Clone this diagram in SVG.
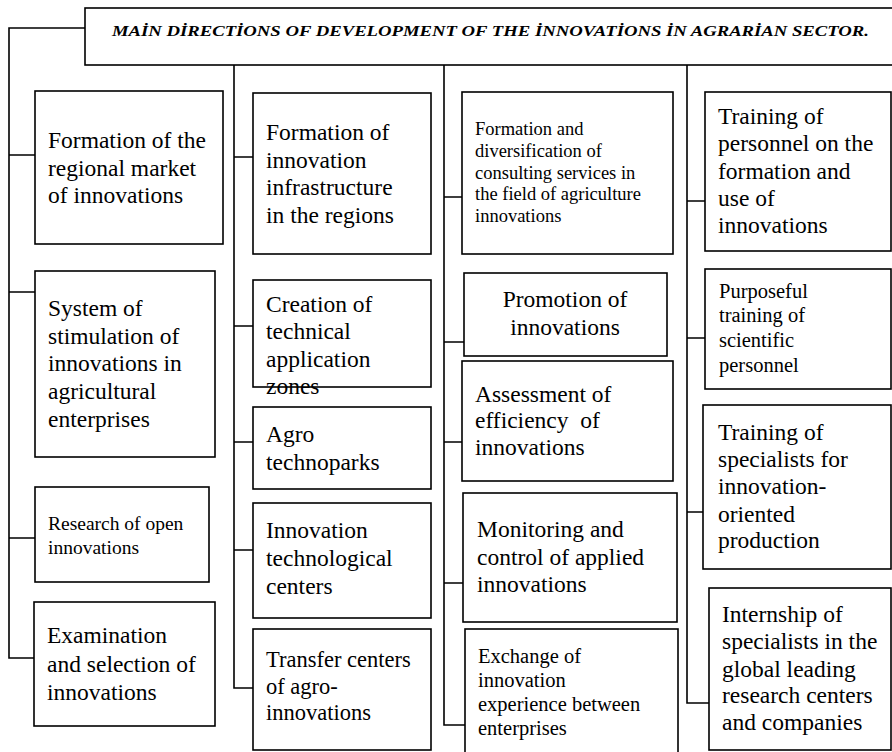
<svg xmlns="http://www.w3.org/2000/svg" width="892" height="752" viewBox="0 0 892 752">
<style>
.box{fill:#fff;stroke:#000;stroke-width:1.6}
.ln{fill:none;stroke:#000;stroke-width:1.6}
text{font-family:"Liberation Serif","Times New Roman",serif;fill:#000}
.t24{font-size:23.5px}
.t22{font-size:22.5px}
.t21{font-size:20.5px}
.t20{font-size:19.5px}
.t18{font-size:18.5px}
.title{font-size:15.5px;font-weight:bold;font-style:italic}
</style>
<rect width="892" height="752" fill="#fff"/>
<g id="connectors">
<path class="ln" d="M85,28 H9 V658 H35 M9,155 H35 M9,292 H35 M9,538 H35"/>
<path class="ln" d="M234,65 V688 H253 M234,157 H253 M234,326 H253 M234,442 H253 M234,550 H253"/>
<path class="ln" d="M444,65 V725 H465 M444,197 H462 M444,342 H464 M444,442 H462 M444,583 H463"/>
<path class="ln" d="M687,65 V703 H709 M687,201 H705 M687,338 H705 M687,512 H703"/>
</g>
<g id="title">
<rect class="box" x="85" y="8" width="812" height="57"/>
<text class="title" x="112" y="36" textLength="757" lengthAdjust="spacingAndGlyphs">MAİN DİRECTİONS OF DEVELOPMENT OF THE İNNOVATİONS İN AGRARİAN SECTOR.</text>
</g>
<g id="c1n1"><rect class="box" x="35" y="91" width="188" height="153"/>
<text class="t24"><tspan x="48" y="148">Formation of the</tspan><tspan x="48" y="176">regional market</tspan><tspan x="48" y="203">of innovations</tspan></text></g>
<g id="c1n2"><rect class="box" x="35" y="271" width="180" height="186"/>
<text class="t24"><tspan x="48" y="316">System of</tspan><tspan x="48" y="344">stimulation of</tspan><tspan x="48" y="371">innovations in</tspan><tspan x="48" y="399">agricultural</tspan><tspan x="48" y="427">enterprises</tspan></text></g>
<g id="c1n3"><rect class="box" x="35" y="487" width="174" height="95"/>
<text class="t20"><tspan x="48" y="530">Research of open</tspan><tspan x="48" y="554">innovations</tspan></text></g>
<g id="c1n4"><rect class="box" x="34" y="602" width="181" height="124"/>
<text class="t24"><tspan x="47" y="643">Examination</tspan><tspan x="47" y="672">and selection of</tspan><tspan x="47" y="700">innovations</tspan></text></g>

<g id="c2n1"><rect class="box" x="253" y="93" width="178" height="161"/>
<text class="t24"><tspan x="266" y="140">Formation of</tspan><tspan x="266" y="168">innovation</tspan><tspan x="266" y="195">infrastructure</tspan><tspan x="266" y="223">in the regions</tspan></text></g>
<g id="c2n2"><rect class="box" x="253" y="280" width="178" height="107"/>
<text class="t24"><tspan x="266" y="312">Creation of</tspan><tspan x="266" y="339">technical</tspan><tspan x="266" y="367">application</tspan><tspan x="266" y="394">zones</tspan></text></g>
<g id="c2n3"><rect class="box" x="253" y="407" width="178" height="82"/>
<text class="t24"><tspan x="266" y="442">Agro</tspan><tspan x="266" y="470">technoparks</tspan></text></g>
<g id="c2n4"><rect class="box" x="253" y="503" width="178" height="115"/>
<text class="t24"><tspan x="266" y="538">Innovation</tspan><tspan x="266" y="566">technological</tspan><tspan x="266" y="594">centers</tspan></text></g>
<g id="c2n5"><rect class="box" x="253" y="629" width="178" height="121"/>
<text class="t22"><tspan x="266" y="667">Transfer centers</tspan><tspan x="266" y="694">of agro-</tspan><tspan x="266" y="720">innovations</tspan></text></g>

<g id="c3n1"><rect class="box" x="462" y="92" width="211" height="162"/>
<text class="t18"><tspan x="475" y="135">Formation and</tspan><tspan x="475" y="157">diversification of</tspan><tspan x="475" y="179">consulting services in</tspan><tspan x="475" y="200">the field of agriculture</tspan><tspan x="475" y="222">innovations</tspan></text></g>
<g id="c3n2"><rect class="box" x="464" y="273" width="203" height="83"/>
<text class="t24" text-anchor="middle"><tspan x="565" y="307">Promotion of</tspan><tspan x="565" y="335">innovations</tspan></text></g>
<g id="c3n3"><rect class="box" x="462" y="361" width="211" height="120"/>
<text class="t24" style="white-space:pre" xml:space="preserve"><tspan x="475" y="402">Assessment of</tspan><tspan x="475" y="428">efficiency  of</tspan><tspan x="475" y="455">innovations</tspan></text></g>
<g id="c3n4"><rect class="box" x="463" y="493" width="214" height="129"/>
<text class="t24"><tspan x="477" y="537">Monitoring and</tspan><tspan x="477" y="565">control of applied</tspan><tspan x="477" y="592">innovations</tspan></text></g>
<g id="c3n5"><rect class="box" x="465" y="629" width="213" height="135"/>
<text class="t21"><tspan x="478" y="663">Exchange of</tspan><tspan x="478" y="687">innovation</tspan><tspan x="478" y="711">experience between</tspan><tspan x="478" y="735">enterprises</tspan></text></g>

<g id="c4n1"><rect class="box" x="705" y="92" width="186" height="159"/>
<text class="t24"><tspan x="718" y="124">Training of</tspan><tspan x="718" y="151">personnel on the</tspan><tspan x="718" y="179">formation and</tspan><tspan x="718" y="206">use of</tspan><tspan x="718" y="233">innovations</tspan></text></g>
<g id="c4n2"><rect class="box" x="705" y="269" width="186" height="120"/>
<text class="t21"><tspan x="719" y="298">Purposeful</tspan><tspan x="719" y="322">training of</tspan><tspan x="719" y="347">scientific</tspan><tspan x="719" y="372">personnel</tspan></text></g>
<g id="c4n3"><rect class="box" x="703" y="405" width="188" height="164"/>
<text class="t24"><tspan x="718" y="440">Training of</tspan><tspan x="718" y="467">specialists for</tspan><tspan x="718" y="494">innovation-</tspan><tspan x="718" y="522">oriented</tspan><tspan x="718" y="548">production</tspan></text></g>
<g id="c4n4"><rect class="box" x="709" y="588" width="182" height="162"/>
<text class="t24"><tspan x="722" y="622">Internship of</tspan><tspan x="722" y="649">specialists in the</tspan><tspan x="722" y="677">global leading</tspan><tspan x="722" y="703">research centers</tspan><tspan x="722" y="730">and companies</tspan></text></g>
</svg>
